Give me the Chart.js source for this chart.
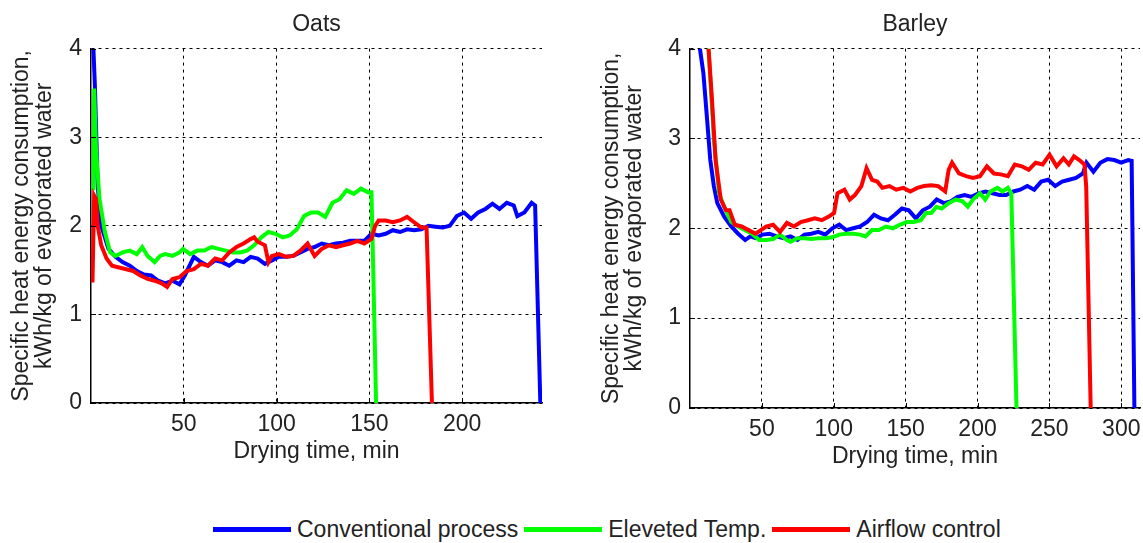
<!DOCTYPE html>
<html>
<head>
<meta charset="utf-8">
<script src="https://cdn.jsdelivr.net/npm/chart.js@4.4.1/dist/chart.umd.min.js"></script>
<style>
  body { margin: 0; background: #fff; font-family: "Liberation Sans", Arial, sans-serif; }
  #oats { position: absolute; left: 0; top: 0; }
  #barley { position: absolute; left: 590px; top: 0; }
  #legend { position: absolute; left: 213px; top: 516px; display: flex; align-items: center; white-space: nowrap; font-size: 23px; color: #222; }
  #legend .sw { display: inline-block; width: 78px; height: 5px; margin-right: 6px; }
  #legend .tx { margin-right: 6px; }
</style>
</head>
<body>
<canvas id="oats" width="565" height="470"></canvas>
<canvas id="barley" width="553" height="470"></canvas>
<div id="legend"></div>
<script>
var seriesNames = ["Conventional process", "Eleveted Temp.", "Airflow control"];
var seriesColors = ["#0000ff", "#00ff00", "#ff0000"];
var yTicks = [0, 1, 2, 3, 4];
var oatsXTicks = [50, 100, 150, 200];
var barleyXTicks = [50, 100, 150, 200, 250, 300];

// Oats - drying time (min) and specific heat consumption (kWh/kg)
var oatsConvT = [1.3,2.1,3.6,5.5,9.4,13.2,17,20.9,24.7,28.5,32.4,36.2,40,43.9,47.7,50.6,55.4,59.2,63,66.9,70.7,74.5,78.4,82.2,86,89.8,93.7,97.5,101.3,105.2,109,112.8,116.7,120.5,124.3,128.2,132,135.8,139.7,143.5,147.3,151.1,155,158.8,162.6,166.5,170.3,174.1,178,181.8,185.6,189.5,193.3,197.1,201,204.8,208.6,212.5,216.3,220.1,224,227.8,229.7,233.5,237.4,239.3,242.1];
var oatsConvY = [4,3.58,2.45,2,1.74,1.65,1.59,1.55,1.49,1.45,1.44,1.38,1.35,1.38,1.34,1.44,1.65,1.59,1.55,1.61,1.59,1.55,1.61,1.59,1.65,1.63,1.57,1.61,1.65,1.65,1.66,1.7,1.74,1.76,1.8,1.78,1.8,1.81,1.83,1.83,1.83,1.91,1.89,1.91,1.95,1.93,1.96,1.95,1.96,2,1.99,1.98,2,2.11,2.15,2.08,2.15,2.19,2.25,2.19,2.26,2.23,2.11,2.15,2.26,2.23,0];
var oatsTempT = [1.3,1.7,2.7,4.6,7.5,10.3,13.2,17,20.9,24.7,27.6,30.5,34.3,37.2,40,43.9,47.7,49.6,53.4,57.3,61.1,64.9,68.8,72.6,76.4,80.3,84.1,87.9,91.8,95.6,99.4,103.3,107.1,110.9,114.8,118.6,122.4,126.2,130.1,133.9,137.7,141.6,145.4,149.2,151.1,152.1,153.6];
var oatsTempY = [2.4,3.55,2.87,2.3,1.93,1.7,1.66,1.7,1.72,1.68,1.76,1.66,1.59,1.66,1.68,1.66,1.7,1.74,1.68,1.72,1.72,1.76,1.74,1.72,1.7,1.7,1.72,1.78,1.87,1.93,1.91,1.87,1.89,1.96,2.11,2.15,2.15,2.1,2.26,2.3,2.4,2.36,2.42,2.38,2.38,1.48,0];
var oatsAirT = [0.8,1.7,2.7,3.6,5.5,8.4,11.3,15.1,19,22.8,26.6,30.5,34.3,38.1,41,43.9,47.7,51.5,55.4,59.2,63,66.9,70.7,74.5,78.4,82.2,86,87.9,89.8,93.7,95.6,97.5,101.3,105.2,109,112.8,116.7,120.5,124.3,128.2,132,135.8,139.7,143.5,147.3,151.1,153.1,155,158.8,162.6,166.5,170.3,174.1,178,180.8,183.7];
var oatsAirY = [1.36,2.34,2.3,2,1.78,1.63,1.55,1.53,1.51,1.49,1.44,1.4,1.38,1.35,1.31,1.4,1.42,1.49,1.51,1.57,1.55,1.63,1.61,1.7,1.76,1.8,1.85,1.87,1.82,1.78,1.59,1.66,1.68,1.65,1.66,1.72,1.8,1.66,1.74,1.78,1.76,1.78,1.8,1.83,1.8,1.85,2,2.06,2.06,2.04,2.06,2.1,2.04,1.98,1.98,0];

// Barley
var barleyConvT = [6.9,9.3,11.7,14.1,16.6,19,23.8,28.7,33.5,38.4,42,45.6,50.5,55.3,60.2,65,69.9,74.7,79.6,84.4,89.3,94.1,99,103.8,108.6,113.5,118.3,123.2,128,132.8,137.7,142.5,147.4,152.2,157.1,161.9,166.8,171.6,176.5,181.3,186.1,191,195.8,200.7,205.5,210.4,215.2,220,224.9,229.7,234.6,239.4,244.3,249.1,254,258.8,263.7,268.5,273.3,275.8,280.6,285.4,290.3,295.1,299.9,304.8,307.2,309.1];
var barleyConvY = [4,3.73,3.25,2.76,2.47,2.28,2.13,2.02,1.94,1.87,1.91,1.89,1.93,1.94,1.91,1.89,1.91,1.87,1.93,1.94,1.96,1.93,2,2.04,1.98,2,2.02,2.07,2.15,2.11,2.09,2.15,2.22,2.2,2.11,2.2,2.24,2.32,2.28,2.3,2.35,2.37,2.35,2.39,2.41,2.39,2.37,2.37,2.41,2.43,2.47,2.43,2.52,2.54,2.47,2.52,2.54,2.56,2.61,2.73,2.63,2.73,2.77,2.76,2.73,2.76,2.75,0];
var barleyTempT = [12.9,16.6,20.2,23.8,28.7,33.5,38.4,43.2,48.1,52.9,57.8,62.6,67.4,69.9,74.7,79.6,84.4,89.3,94.1,99,103.8,108.6,113.5,118.3,122,126.6,131.4,136.3,141.1,145.9,150.8,155.6,160.5,164.1,167.8,171.4,175.1,179.9,184.8,189.6,193.2,196.8,201.7,205.3,209,213.8,217.4,221.1,223.5,227.1];
var barleyTempY = [4,2.99,2.39,2.24,2.07,2.02,1.98,1.94,1.87,1.87,1.88,1.93,1.87,1.85,1.89,1.89,1.88,1.89,1.89,1.9,1.93,1.94,1.94,1.93,1.91,1.98,1.98,2.02,2,2.04,2.07,2.07,2.09,2.17,2.17,2.24,2.22,2.28,2.32,2.3,2.24,2.32,2.39,2.32,2.41,2.45,2.41,2.45,2.39,0];
var barleyAirT = [12.9,15.3,17.8,21.4,25,27.5,31.1,35.9,40.8,45.6,49.3,52.9,57.8,62.6,67.4,72.3,77.1,82,86.8,91.7,96.5,100.2,102.6,107.4,111.1,114.7,119.2,122.8,126.6,130.2,133.8,138.7,143.5,148.4,153.2,158.1,162.9,167.8,172.6,177.5,179.9,182.3,187.1,192,196.8,201.7,206.5,211.4,216.2,221.1,225.9,230.8,235.6,240.4,245.3,250.1,255,259.8,263.5,267.1,270.8,274.4,275.6,278.7];
var barleyAirY = [4,3.43,2.76,2.32,2.2,2.2,2.04,2.02,1.98,1.94,1.98,2.02,2.04,1.96,2.06,2.02,2.07,2.09,2.11,2.09,2.13,2.17,2.39,2.43,2.32,2.37,2.47,2.67,2.54,2.52,2.45,2.47,2.43,2.45,2.41,2.45,2.47,2.48,2.47,2.41,2.65,2.73,2.61,2.58,2.56,2.58,2.69,2.61,2.6,2.58,2.71,2.69,2.65,2.73,2.71,2.82,2.69,2.78,2.71,2.8,2.76,2.71,2.46,0];

var yTitle = ["Specific heat energy consumption,", "kWh/kg of evaporated water"];
var fontFamily = "'Liberation Sans', Arial, sans-serif";
var textColor = "#222";
var fontSize = 23;

function pts(t, y) {
  return t.map(function (v, i) { return {x: v, y: y[i]}; });
}

// small inward tick marks like the original plot
var innerTicks = {
  id: "innerTicks",
  afterDatasetsDraw: function (chart) {
    var ctx = chart.ctx, a = chart.chartArea;
    ctx.save();
    ctx.strokeStyle = "#000";
    ctx.lineWidth = 1;
    chart.scales.x.ticks.forEach(function (t) {
      var px = Math.round(chart.scales.x.getPixelForValue(t.value)) + 0.5;
      ctx.beginPath(); ctx.moveTo(px, a.bottom); ctx.lineTo(px, a.bottom - 5); ctx.stroke();
    });
    chart.scales.y.ticks.forEach(function (t) {
      var py = Math.round(chart.scales.y.getPixelForValue(t.value)) + 0.5;
      ctx.beginPath(); ctx.moveTo(a.left, py); ctx.lineTo(a.left + 5, py); ctx.stroke();
    });
    ctx.restore();
  }
};

function makeChart(id, title, series, xMax, xTicks, yWidth, xHeight, padRight, xTitlePad) {
  var datasets = series.map(function (s, i) {
    return {
      label: seriesNames[i],
      data: s,
      borderColor: seriesColors[i],
      backgroundColor: seriesColors[i],
      borderWidth: 4,
      pointRadius: 0,
      tension: 0,
      order: 3 - i
    };
  });
  return new Chart(document.getElementById(id), {
    type: "line",
    data: {datasets: datasets},
    options: {
      responsive: false,
      animation: false,
      layout: {padding: {left: 0, right: padRight, top: 0, bottom: 0}},
      plugins: {
        legend: {display: false},
        tooltip: {enabled: false},
        title: {
          display: true, text: title, fullSize: false,
          color: textColor, font: {family: fontFamily, size: fontSize, weight: "normal", lineHeight: 1.2},
          padding: {top: 11, bottom: 10}
        }
      },
      scales: {
        x: {
          type: "linear", min: 0, max: xMax,
          afterBuildTicks: function (s) { s.ticks = xTicks.map(function (v) { return {value: v}; }); },
          afterFit: function (s) { s.height = xHeight; s.paddingLeft = 0; s.paddingRight = 0; },
          grid: {color: "#000", lineWidth: 1, drawTicks: false},
          border: {display: true, color: "#000", width: 1.5, dash: [3, 4]},
          ticks: {color: textColor, padding: 8, font: {family: fontFamily, size: fontSize}, maxRotation: 0},
          title: {display: true, text: "Drying time, min", color: textColor, font: {family: fontFamily, size: fontSize}, padding: {top: 0, bottom: xTitlePad}}
        },
        y: {
          min: 0, max: 4,
          afterBuildTicks: function (s) { s.ticks = yTicks.map(function (v) { return {value: v}; }); },
          afterFit: function (s) { s.width = yWidth; },
          grid: {color: "#000", lineWidth: 1, drawTicks: false},
          border: {display: true, color: "#000", width: 1.5, dash: [3, 4]},
          ticks: {color: textColor, padding: 9, font: {family: fontFamily, size: fontSize}},
          title: {display: true, text: yTitle, color: textColor, font: {family: fontFamily, size: fontSize, lineHeight: 1.0}, padding: {top: 10, bottom: 0}}
        }
      }
    },
    plugins: [innerTicks]
  });
}

var oatsChart = makeChart("oats", "Oats",
  [pts(oatsConvT, oatsConvY), pts(oatsTempT, oatsTempY), pts(oatsAirT, oatsAirY)],
  243, oatsXTicks, 91, 67, 23, 5);
var barleyChart = makeChart("barley", "Barley",
  [pts(barleyConvT, barleyConvY), pts(barleyTempT, barleyTempY), pts(barleyAirT, barleyAirY)],
  313, barleyXTicks, 100, 62, 3, 0);

var legend = document.getElementById("legend");
seriesNames.forEach(function (n, i) {
  var sw = document.createElement("span");
  sw.className = "sw";
  sw.style.background = seriesColors[i];
  var tx = document.createElement("span");
  tx.className = "tx";
  tx.textContent = n;
  legend.appendChild(sw);
  legend.appendChild(tx);
});
</script>
</body>
</html>
